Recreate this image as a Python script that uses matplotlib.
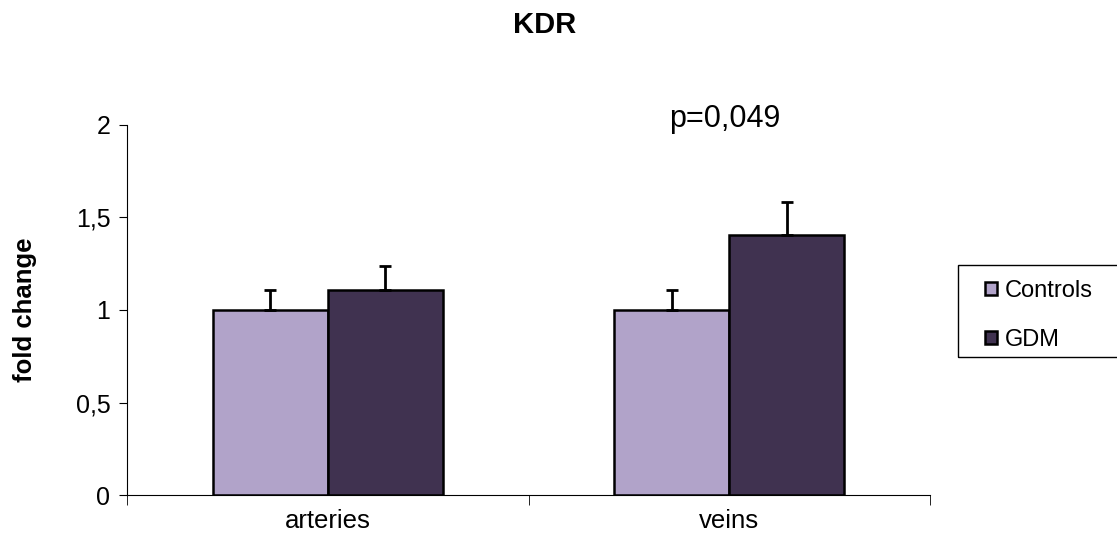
import numpy as np
import matplotlib.pyplot as plt
from matplotlib.patches import Rectangle
from matplotlib.ticker import FixedLocator

plt.rcParams['font.family'] = ['Liberation Sans', 'DejaVu Sans']

# data
categories = ['arteries', 'veins']
groups = ['Controls', 'GDM']
controls = [1.00, 1.00]
controls_err = [0.11, 0.11]
gdm = [1.11, 1.405]
gdm_err = [0.13, 0.18]

colors = ['#b1a3c9', '#403250']

fig = plt.figure(figsize=(11.17, 5.41), dpi=100)
ax = fig.add_axes([0.1137, 0.085, 0.7189, 0.684])

x = np.arange(len(categories)) + 0.5
w = 0.287
err_kw = dict(ecolor='black', elinewidth=2, capsize=4, capthick=2)
ax.bar(x - w / 2, controls, w, color=colors[0], edgecolor='black', linewidth=1.8,
       yerr=[np.zeros(2), controls_err], error_kw=err_kw, label=groups[0])
ax.bar(x + w / 2, gdm, w, color=colors[1], edgecolor='black', linewidth=1.8,
       yerr=[np.zeros(2), gdm_err], error_kw=err_kw, label=groups[1])

ax.set_xlim(0, 2)
ax.set_ylim(0, 2)
ax.set_yticks([0, 0.5, 1, 1.5, 2])
ax.set_yticklabels(['0', '0,5', '1', '1,5', '2'], fontsize=18)
ax.set_xticks(x)
ax.set_xticklabels(categories, fontsize=18.5)
ax.xaxis.set_minor_locator(FixedLocator([0, 1, 2]))
ax.tick_params(axis='x', which='major', length=0, pad=10)
ax.tick_params(axis='x', which='minor', length=7, direction='out')
ax.tick_params(axis='y', length=6, direction='out', pad=6)

for s in ['top', 'right']:
    ax.spines[s].set_visible(False)

ax.set_ylabel('fold change', fontsize=18.5, fontweight='bold')
ax.yaxis.set_label_coords(-0.1125, 0.5)
ax.text(1.489, 1.99, 'p=0,049', ha='center', va='baseline', fontsize=22)

fig.text(0.488, 0.939, 'KDR', ha='center', va='baseline', fontsize=21, fontweight='bold')

# legend: entries without frame, box drawn separately (runs off the right edge)
leg = fig.legend(loc='upper left', bbox_to_anchor=(0.8818, 0.4825), fontsize=17,
                 frameon=False, handlelength=0.5, handleheight=0.5,
                 handletextpad=0.35, labelspacing=1.14, borderpad=0,
                 borderaxespad=0)
fig.add_artist(Rectangle((0.8576, 0.3401), 0.2, 0.1701, transform=fig.transFigure,
                         fill=False, edgecolor='black', linewidth=1))

fig.savefig('out.png', dpi=100)
